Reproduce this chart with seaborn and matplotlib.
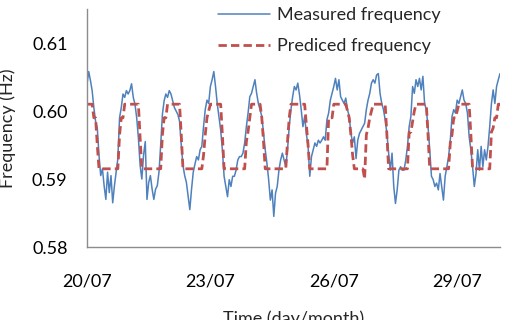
import numpy as np
import pandas as pd
import seaborn as sns
import matplotlib.pyplot as plt

# hourly readings starting 20/07 00:00
start = "2013-07-20 00:00"

measured = [
    0.6040, 0.6058, 0.6045, 0.6030, 0.6005, 0.5985, 0.5975, 0.5935, 0.5905, 0.5915, 0.5890, 0.5870,
    0.5910, 0.5880, 0.5905, 0.5865, 0.5890, 0.5910, 0.5930, 0.5990, 0.6005, 0.6025, 0.6020, 0.6030,
    0.6025, 0.6030, 0.6040, 0.6020, 0.6010, 0.5990, 0.5960, 0.5920, 0.5900, 0.5935, 0.5955, 0.5870,
    0.5895, 0.5905, 0.5885, 0.5870, 0.5885, 0.5890, 0.5910, 0.5950, 0.5995, 0.6015, 0.6025, 0.6020,
    0.6030, 0.6025, 0.6015, 0.6005, 0.6000, 0.5995, 0.5985, 0.5950, 0.5920, 0.5905, 0.5895, 0.5875,
    0.5855, 0.5885, 0.5910, 0.5922, 0.5933, 0.5928, 0.5943, 0.5948, 0.5977, 0.6002, 0.6016, 0.6011,
    0.6036, 0.6046, 0.6058, 0.6036, 0.6011, 0.5992, 0.5972, 0.5943, 0.5904, 0.5889, 0.5874, 0.5899,
    0.5889, 0.5904, 0.5904, 0.5913, 0.5928, 0.5933, 0.5933, 0.5938, 0.5953, 0.5977, 0.5997, 0.6021,
    0.6026, 0.6036, 0.6046, 0.6026, 0.6011, 0.6002, 0.5992, 0.5967, 0.5943, 0.5923, 0.5899, 0.5869,
    0.5884, 0.5845, 0.5879, 0.5889, 0.5913, 0.5928, 0.5938, 0.5928, 0.5918, 0.5943, 0.5977, 0.6002,
    0.6021, 0.6036, 0.6031, 0.6041, 0.6024, 0.6002, 0.5977, 0.5992, 0.5967, 0.5948, 0.5904, 0.5933,
    0.5943, 0.5953, 0.5948, 0.5957, 0.5953, 0.5957, 0.5962, 0.5957, 0.5987, 0.5997, 0.6016, 0.6026,
    0.6036, 0.6048, 0.6031, 0.6046, 0.6021, 0.6016, 0.6011, 0.6019, 0.6002, 0.5992, 0.5967, 0.5953,
    0.5962, 0.5930, 0.5957, 0.5967, 0.5972, 0.5977, 0.5982, 0.6002, 0.6016, 0.6026, 0.6041, 0.6046,
    0.6041, 0.6053, 0.6055, 0.6026, 0.6011, 0.6002, 0.5987, 0.5967, 0.5938, 0.5913, 0.5938, 0.5889,
    0.5864, 0.5884, 0.5913, 0.5918, 0.5913, 0.5913, 0.5928, 0.5948, 0.5977, 0.5992, 0.6036, 0.6026,
    0.6046, 0.6036, 0.6048, 0.6031, 0.6051, 0.6011, 0.6002, 0.5977, 0.5943, 0.5904, 0.5899, 0.5889,
    0.5894, 0.5884, 0.5908, 0.5889, 0.5869, 0.5904, 0.5918, 0.5933, 0.5957, 0.5992, 0.6002, 0.5997,
    0.6016, 0.6011, 0.6021, 0.6031, 0.6016, 0.6011, 0.5997, 0.5962, 0.5943, 0.5918, 0.5889, 0.5908,
    0.5943, 0.5913, 0.5948, 0.5918, 0.5943, 0.5928, 0.5948, 0.5977, 0.6011, 0.6031, 0.6011, 0.6036,
    0.6046, 0.6055,
]

hi, lo = 0.601, 0.5915
predicted = (
    [hi] * 4 + [0.599, 0.599, 0.595] + [lo] * 12 + [0.5965, 0.599, 0.599, hi, hi]
    + [hi] * 7 + [0.596] + [lo] * 12 + [0.5965, 0.599, 0.599, hi]
    + [hi] * 7 + [0.5965] + [lo] * 12 + [0.5935, 0.5965, 0.599, 0.600]
    + [hi] * 7 + [0.5965] + [lo] * 13 + [0.5955, 0.597, 0.599]
    + [hi] * 6 + [0.599, 0.5955] + [lo] * 13 + [0.5955, 0.599, hi]
    + [hi] * 8 + [0.598, 0.595] + [lo] * 11 + [0.599, 0.599, 0.599]
    + [hi] * 8 + [0.600, 0.599, 0.5965, 0.5935] + [lo] * 6 + [0.590, 0.5965, 0.5975, 0.599, 0.600, hi]
    + [hi] * 7 + [0.5965] + [lo] * 12 + [0.5969, 0.5969, 0.5985, 0.600]
    + [hi] * 7 + [0.5965] + [lo] * 12 + [0.5953, 0.5965, 0.599, 0.599]
    + [0.600] + [hi] * 7 + [0.5965] + [lo] * 11 + [0.5969, 0.5975, 0.599, 0.599, hi, hi]
)

tick_days = ["2013-07-20", "2013-07-23", "2013-07-26", "2013-07-29"]
tick_labels = ["20/07", "23/07", "26/07", "29/07"]
y_ticks = [0.58, 0.59, 0.60, 0.61]

times = pd.date_range(start, periods=len(measured), freq="h")
df = pd.DataFrame({"time": times, "measured": measured, "predicted": predicted})

sns.set_style("white")
plt.rcParams["font.family"] = ["Lato", "DejaVu Sans"]
plt.rcParams["font.size"] = 13

fig = plt.figure(figsize=(5.07, 3.2), dpi=100)
ax = fig.add_axes([87 / 507, 73 / 320, 413 / 507, 238 / 320])

sns.lineplot(data=df, x="time", y="measured", color="#4f81bd", lw=1.1,
             ax=ax, label="Measured frequency")
sns.lineplot(data=df, x="time", y="predicted", color="#c0504d", lw=2.0,
             dashes=False, ax=ax, label="Prediced frequency")
ax.lines[1].set_linestyle((0, (3.0, 1.5)))

ax.set_xlim(times[0], times[-1])
ax.set_ylim(0.58, 0.615)
ax.set_xticks(pd.to_datetime(tick_days))
ax.set_xticklabels(tick_labels)
ax.set_yticks(y_ticks)
ax.set_yticklabels(["%.2f" % v for v in y_ticks])
ax.tick_params(axis="both", length=0, labelsize=13, colors="black")
ax.tick_params(axis="y", pad=14)
ax.tick_params(axis="x", pad=19)

for s in ["top", "right"]:
    ax.spines[s].set_visible(False)
for s in ["left", "bottom"]:
    ax.spines[s].set_color("#8c8c8c")
    ax.spines[s].set_linewidth(1.0)

ax.set_xlabel("Time (day/month)", fontsize=13)
ax.set_ylabel("Frequency (Hz)", fontsize=13)
ax.xaxis.set_label_coords(0.5, -0.265)
ax.yaxis.set_label_coords(-0.172, 0.5)

leg = ax.legend(loc="upper left", bbox_to_anchor=(0.317, 1.009), frameon=False,
                handlelength=2.9, handletextpad=0.35, labelspacing=0.83,
                borderpad=0, borderaxespad=0, fontsize=13)
leg.get_lines()[1].set_linestyle((0, (3.0, 1.5)))

fig.savefig("out.png", dpi=100)
